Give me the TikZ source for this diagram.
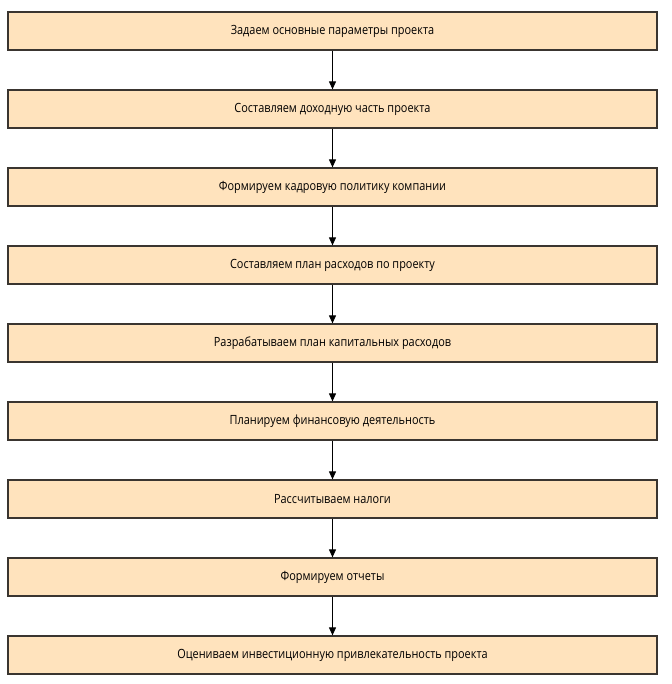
\documentclass[tikz,border=0pt]{standalone}
\usepackage{fontspec}
\setmainfont[FakeStretch=0.86]{Open Sans}
\usepackage{tikz}
\usetikzlibrary{
    arrows.meta,
    positioning
}
\definecolor{stepfill}{HTML}{FFE3BD}
\definecolor{stepline}{HTML}{3A3530}
\tikzset{
    stepbox/.style={draw=stepline, line width=1.2pt, fill=stepfill, minimum width=649pt, minimum height=38pt, inner sep=0pt, font=\fontsize{12.7}{15}\selectfont},
    steparrow/.style={-{Triangle[length=8pt, width=7pt]}, line width=0.9pt}
}

\begin{document}
\begin{tikzpicture}[x=1pt, y=-1pt]
                        \useasboundingbox (0, 0) rectangle (671, 684);
                        \foreach \i/\txt in {1/Задаем основные параметры проекта,
                                             2/Составляем доходную часть проекта,
                                             3/Формируем кадровую политику компании,
                                             4/Составляем план расходов по проекту,
                                             5/Разрабатываем план капитальных расходов,
                                             6/Планируем финансовую деятельность,
                                             7/Рассчитываем налоги,
                                             8/Формируем отчеты,
                                             9/Оцениваем инвестиционную привлекательность проекта} {
                            \node[stepbox] (b\i) at (332.5, {31 + 78*(\i-1)}) {\txt};
                        }
                        \foreach \i [evaluate=\i as \j using int(\i+1)] in {1,...,8} {
                            \draw[steparrow] (b\i) -- (b\j);
                        }
                    \end{tikzpicture}
\end{document}
